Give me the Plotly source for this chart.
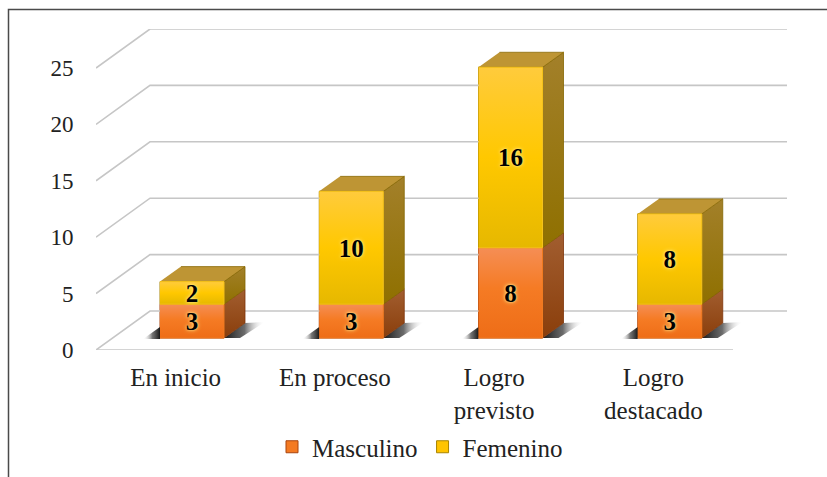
import plotly.graph_objects as go

categories = ["En inicio", "En proceso", "Logro<br>previsto", "Logro<br>destacado"]
masculino = [3, 3, 8, 3]
femenino = [2, 10, 16, 8]
y_ticks = [0, 5, 10, 15, 20, 25]

W, H = 827, 477
L, R, T, B = 96, 787, 29, 350      # plot area in pixels
PX_X = 159.25                      # pixels per category
PX_Y = 11.28                       # pixels per value unit
ux = lambda p: p / PX_X
uy = lambda p: p / PX_Y
px_x = lambda p: (p - L) / (R - L)
px_y = lambda p: (B - p) / (B - T)

WALL_DX, WALL_DY = ux(54), uy(39)
BAR_DX, BAR_DY = ux(21), uy(15)
BAR_W = ux(64)
BAR_LEFT = ux(64)
LIFT = uy(12)
SERIF = "Liberation Serif"
TXT = "#222222"

fig = go.Figure()

# the real stacked bars (front faces)
base_m = [LIFT] * 4
base_f = [LIFT + m for m in masculino]
xs = [i + BAR_LEFT + BAR_W / 2 for i in range(4)]
fig.add_bar(x=xs, y=masculino, base=base_m, width=BAR_W, name="Masculino",
            marker=dict(color="#F47A22", line=dict(color="#A8450F", width=1)), hoverinfo="skip")
fig.add_bar(x=xs, y=femenino, base=base_f, width=BAR_W, name="Femenino",
            marker=dict(color="#FFC400", line=dict(color="#A88400", width=1)), hoverinfo="skip")


def poly(x, y, fill=None, grad=None, line=None, width=0, gtype="vertical"):
    kw = dict(x=x, y=y, mode="lines", fill="toself", showlegend=False, hoverinfo="skip", cliponaxis=False,
              line=dict(color=line or "rgba(0,0,0,0)", width=width))
    if grad:
        kw["fillgradient"] = dict(type=gtype, colorscale=grad)
    else:
        kw["fillcolor"] = fill
    fig.add_trace(go.Scatter(**kw))


# back wall gridlines and floor
for v in y_ticks:
    fig.add_trace(go.Scatter(x=[0, WALL_DX, 4 + WALL_DX], y=[v, v + WALL_DY, v + WALL_DY], mode="lines",
                             line=dict(color="#C6C6C6", width=1.6), showlegend=False,
                             hoverinfo="skip", cliponaxis=False))
fig.add_trace(go.Scatter(x=[0, 4], y=[0, 0], mode="lines", line=dict(color="#C6C6C6", width=1.6),
                         showlegend=False, hoverinfo="skip", cliponaxis=False))

# colour stops run from the bottom of a face to its top
ORANGE_FRONT = [[0, "#EE6D17"], [0.55, "#F57B24"], [1, "#F58E55"]]
YELLOW_FRONT = [[0, "#E6B800"], [0.5, "#FFC800"], [1, "#FFCB3C"]]
ORANGE_SIDE = [[0, "#8A3E0B"], [1, "#A25E30"]]
YELLOW_SIDE = [[0, "#8F7000"], [1, "#A3802A"]]
SHADOW = [[0, "rgba(25,25,25,1)"], [0.5, "rgba(70,70,70,0.8)"], [1, "rgba(255,255,255,0)"]]
SHADOW_L = [[0, "rgba(255,255,255,0)"], [0.55, "rgba(70,70,70,0.75)"], [1, "rgba(25,25,25,1)"]]

for i in range(4):
    x0 = i + BAR_LEFT
    x1 = x0 + BAR_W
    b0 = LIFT
    b1 = b0 + masculino[i]
    b2 = b1 + femenino[i]
    # shadows on the floor
    poly([x1, x1 + BAR_DX, x1 + BAR_DX + ux(20), x1 + ux(16)],
         [b0, b0 + BAR_DY, b0 + BAR_DY + uy(1), b0],
         grad=SHADOW, gtype="horizontal")
    poly([x0 - ux(17), x0, x0], [b0 - uy(1), b0 + uy(11), b0 - uy(1)], grad=SHADOW_L, gtype="horizontal")
    # side faces
    poly([x1, x1 + BAR_DX, x1 + BAR_DX, x1], [b0, b0 + BAR_DY, b1 + BAR_DY, b1],
         grad=ORANGE_SIDE, line="#7E3308", width=0.8)
    poly([x1, x1 + BAR_DX, x1 + BAR_DX, x1], [b1, b1 + BAR_DY, b2 + BAR_DY, b2],
         grad=YELLOW_SIDE, line="#846600", width=0.8)
    # top face
    poly([x0, x1, x1 + BAR_DX, x0 + BAR_DX], [b2, b2, b2 + BAR_DY, b2 + BAR_DY],
         fill="#BE9534", line="#8C6C0A", width=0.8)
    # front faces with gradient
    poly([x0, x1, x1, x0], [b0, b0, b1, b1], grad=ORANGE_FRONT, line="#F07A20", width=1)
    poly([x0, x1, x1, x0], [b1, b1, b2, b2], grad=YELLOW_FRONT, line="#F5C21A", width=1)

# value labels
NUDGE = uy(2.5)
label_x = xs + xs
label_y = [LIFT + m / 2 - NUDGE for m in masculino] + \
          [LIFT + m + f / 2 - NUDGE for m, f in zip(masculino, femenino)]
label_t = [str(v) for v in masculino + femenino]
fig.add_trace(go.Scatter(x=label_x, y=label_y, text=label_t, mode="text", textposition="middle center",
                         textfont=dict(family=SERIF, size=25, color="#000000", weight="bold",
                                       shadow="0 0 4px #FFE98A, 0 0 2px #FFE98A"),
                         showlegend=False, hoverinfo="skip", cliponaxis=False))

fig.update_layout(
    width=W, height=H, autosize=False,
    margin=dict(l=L, r=W - R, t=T, b=H - B, pad=0, autoexpand=False),
    paper_bgcolor="white", plot_bgcolor="white",
    barmode="overlay", showlegend=True,
    font=dict(family=SERIF, size=25, color=TXT),
    legend=dict(orientation="h", x=px_x(420), xanchor="center", yref="container", y=1 - 424 / H, yanchor="top",
                font=dict(family=SERIF, size=25, color=TXT), bgcolor="rgba(0,0,0,0)",
                itemclick=False, itemdoubleclick=False),
    xaxis=dict(range=[0, (R - L) / PX_X], tickvals=[i + 0.5 for i in range(4)], ticktext=categories,
               showgrid=False, zeroline=False, showline=False, ticks="outside", ticklen=5,
               tickcolor="rgba(0,0,0,0)", tickfont=dict(family=SERIF, size=25, color=TXT), tickangle=0,
               automargin=False),
    yaxis=dict(range=[0, (B - T) / PX_Y], tickvals=y_ticks, showgrid=False, zeroline=False, showline=False,
               ticks="outside", ticklen=17, tickcolor="rgba(0,0,0,0)",
               tickfont=dict(family=SERIF, size=23, color=TXT), automargin=False),
    shapes=[dict(type="path", xref="paper", yref="paper", layer="above",
                 path=f"M {px_x(8.5)} {px_y(477)} L {px_x(8.5)} {px_y(9.5)} L {px_x(827)} {px_y(9.5)}",
                 line=dict(color="#4A4A4A", width=1.5))],
)
fig.write_html("out.html", config=dict(displayModeBar=False),
               post_script="document.body.style.margin='0';")
